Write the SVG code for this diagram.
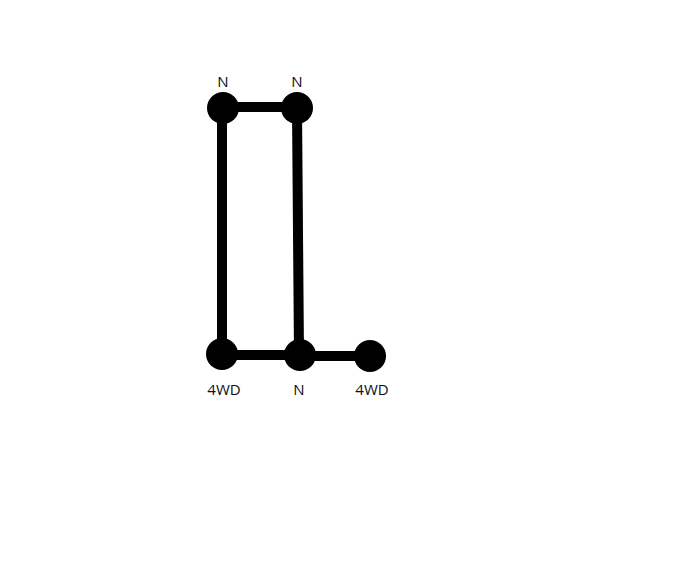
<svg xmlns="http://www.w3.org/2000/svg" width="696" height="564" viewBox="0 0 696 564">
<style>
.e{stroke:#000;stroke-width:10;fill:none}
.n{fill:#000}
.t{font-family:"Open Sans","Liberation Sans",sans-serif;font-size:15px;fill:#111;text-anchor:middle}
</style>
<rect width="696" height="564" fill="#fff"/>
<g id="connectors">
<line class="e" x1="223" y1="107" x2="297" y2="107"/>
<line class="e" x1="222" y1="108" x2="222" y2="354"/>
<line class="e" x1="297" y1="108" x2="299" y2="355"/>
<line class="e" x1="222" y1="355" x2="300" y2="355"/>
<line class="e" x1="300" y1="356" x2="370" y2="356"/>
</g>
<g id="n1"><circle class="n" cx="223" cy="108" r="16"/><text class="t" x="223" y="87">N</text></g>
<g id="n2"><circle class="n" cx="297" cy="108" r="16"/><text class="t" x="297" y="87">N</text></g>
<g id="n3"><circle class="n" cx="222" cy="354" r="16"/><text class="t" x="224" y="395">4WD</text></g>
<g id="n4"><circle class="n" cx="300" cy="355" r="16"/><text class="t" x="299" y="395">N</text></g>
<g id="n5"><circle class="n" cx="370" cy="356" r="16"/><text class="t" x="372" y="395">4WD</text></g>
</svg>
